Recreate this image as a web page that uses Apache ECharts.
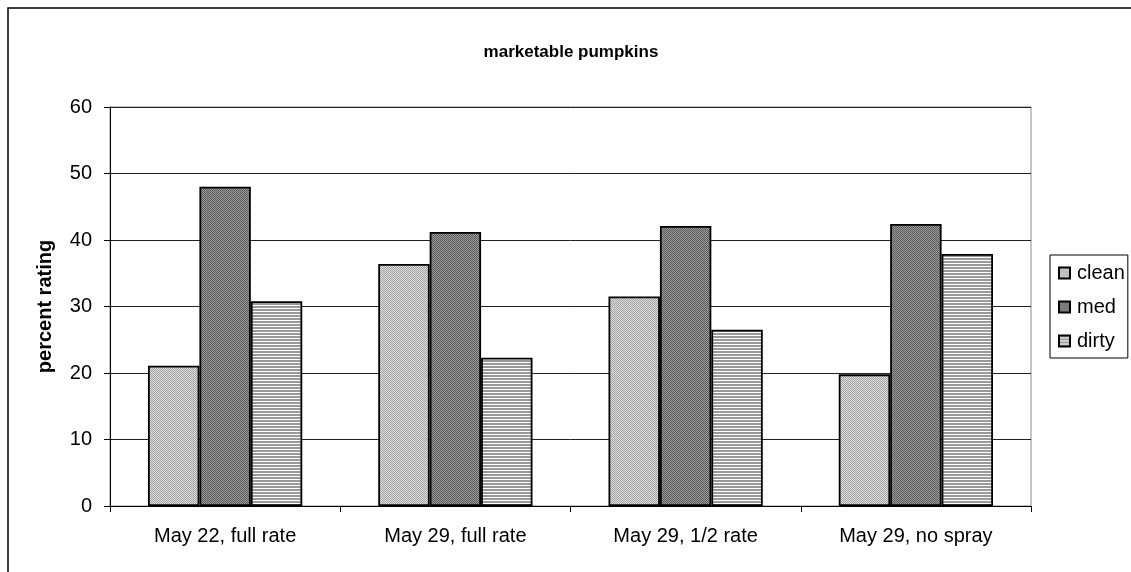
<!DOCTYPE html>
<html>
<head>
<meta charset="utf-8">
<style>
  html, body { margin: 0; padding: 0; background: #fff; }
  #chart { width: 1131px; height: 572px; }
</style>
<script src="https://cdn.jsdelivr.net/npm/echarts@6/dist/echarts.min.js"></script>
</head>
<body>
<div id="chart"></div>
<script>
// Treatments along the x axis
const categories = ['May 22, full rate', 'May 29, full rate', 'May 29, 1/2 rate', 'May 29, no spray'];
// Percent of marketable pumpkins in each cleanliness class
const cleanValues = [21.1, 36.4, 31.5, 19.8];
const medValues = [48.0, 41.2, 42.1, 42.4];
const dirtyValues = [30.8, 22.3, 26.5, 37.9];
const seriesNames = ['clean', 'med', 'dirty'];
const yTicks = [0, 10, 20, 30, 40, 50, 60];

const FONT = '"Liberation Sans", Arial, sans-serif';

// Small tiled fills imitating the classic hatch patterns
function makePattern(size, draw) {
  const c = document.createElement('canvas');
  c.width = size; c.height = size;
  const ctx = c.getContext('2d');
  draw(ctx);
  return { image: c, repeat: 'repeat' };
}
const cleanFill = makePattern(4, ctx => {
  ctx.fillStyle = '#dcdcdc'; ctx.fillRect(0, 0, 4, 4);
  ctx.fillStyle = '#a4a4a4';
  for (let i = 0; i < 4; i++) { ctx.fillRect(i, i, 1, 1); ctx.fillRect((i + 2) % 4, i, 1, 1); }
});
const medFill = makePattern(2, ctx => {
  ctx.fillStyle = '#9a9a9a'; ctx.fillRect(0, 0, 2, 2);
  ctx.fillStyle = '#5c5c5c'; ctx.fillRect(0, 0, 1, 1); ctx.fillRect(1, 1, 1, 1);
});
const dirtyFill = makePattern(3, ctx => {
  ctx.fillStyle = '#ffffff'; ctx.fillRect(0, 0, 3, 3);
  ctx.fillStyle = '#9a9a9a'; ctx.fillRect(0, 0, 3, 2);
});

const fills = [cleanFill, medFill, dirtyFill];
const values = [cleanValues, medValues, dirtyValues];

const chart = echarts.init(document.getElementById('chart'), null, { renderer: 'canvas' });

chart.setOption({
  animation: false,
  backgroundColor: '#ffffff',
  textStyle: { fontFamily: FONT },
  title: {
    text: 'marketable pumpkins',
    left: 566, top: 39, textAlign: 'center',
    textStyle: { fontFamily: FONT, fontSize: 17, fontWeight: 'bold', color: '#000' }
  },
  graphic: [{
    type: 'rect',
    shape: { x: 8, y: 8, width: 1300, height: 1000 },
    style: { fill: 'none', stroke: '#000', lineWidth: 1.5 },
    silent: true, z: 100
  }],
  legend: {
    orient: 'vertical',
    left: 1050, top: 255,
    data: seriesNames,
    itemWidth: 11, itemHeight: 11,
    itemGap: 14,
    padding: [8, 3, 7, 8],
    borderColor: '#000', borderWidth: 1,
    icon: 'rect',
    textStyle: { fontFamily: FONT, fontSize: 20, color: '#000', lineHeight: 20, padding: [0, 0, 0, 2] }
  },
  grid: {
    left: 110, right: 100, top: 107, bottom: 66,
    show: true, borderColor: '#888', borderWidth: 1, backgroundColor: 'transparent'
  },
  xAxis: {
    type: 'category',
    data: categories,
    axisLine: { lineStyle: { color: '#000', width: 1 } },
    axisTick: { show: true, length: 6, lineStyle: { color: '#000' } },
    axisLabel: { fontFamily: FONT, fontSize: 20, color: '#000', margin: 20 }
  },
  yAxis: {
    type: 'value',
    min: yTicks[0], max: yTicks[yTicks.length - 1], interval: 10,
    name: 'percent rating',
    nameLocation: 'middle',
    nameGap: 55,
    nameTextStyle: { fontFamily: FONT, fontSize: 20, fontWeight: 'bold', color: '#000' },
    axisLine: { show: true, lineStyle: { color: '#000', width: 1 } },
    axisTick: { show: true, length: 6, lineStyle: { color: '#000' } },
    axisLabel: { fontFamily: FONT, fontSize: 20, color: '#000', margin: 18 },
    splitLine: { show: true, lineStyle: { color: '#222', width: 1 } }
  },
  series: seriesNames.map((name, i) => ({
    name: name,
    type: 'bar',
    data: values[i],
    barGap: '0%',
    barCategoryGap: '33%',
    itemStyle: { color: fills[i], borderColor: '#000', borderWidth: 1.8 }
  }))
});
</script>
</body>
</html>
